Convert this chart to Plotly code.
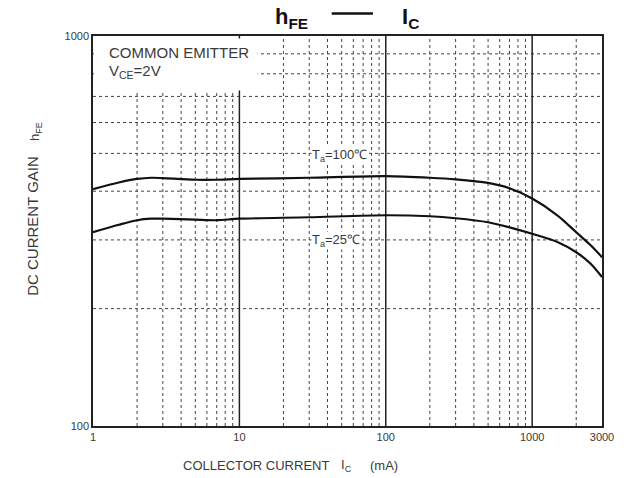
import plotly.graph_objects as go

# Data
ic_ma = [1, 1.5, 2, 2.5, 3, 5, 7, 10, 30, 100, 200, 300, 500, 700, 1000, 1500, 2000, 2500, 3000]
hfe_100c = [405, 421, 430, 433, 432, 428, 428, 430, 433, 437, 433, 429, 420, 407, 383, 346, 314, 291, 271]
hfe_25c = [314, 328, 337, 340, 340, 338, 337, 340, 343, 347, 345, 341, 333, 323, 311, 296, 279, 261, 241]

x_ticks = [1, 10, 100, 1000, 3000]
x_tick_text = ["1", "10", "100", "1000", "3000"]
y_ticks = [100, 1000]
y_tick_text = ["100", "1000"]
x_minor = [2, 3, 4, 5, 6, 7, 8, 9, 20, 30, 40, 50, 60, 70, 80, 90,
           200, 300, 400, 500, 600, 700, 800, 900, 2000]
x_major = [10, 100, 1000]
y_minor = [200, 300, 400, 500, 600, 700, 800, 900]

FONT = "Liberation Sans, Arial, sans-serif"
GREY = "#3a3a3a"

fig = go.Figure()
fig.add_trace(go.Scatter(x=ic_ma, y=hfe_100c, mode="lines",
                         line=dict(color="#111", width=2.2, shape="spline", smoothing=0.8),
                         showlegend=False))
fig.add_trace(go.Scatter(x=ic_ma, y=hfe_25c, mode="lines",
                         line=dict(color="#111", width=2.2, shape="spline", smoothing=0.8),
                         showlegend=False))

shapes = []
for xv in x_minor:
    shapes.append(dict(type="line", xref="x", yref="y", x0=xv, x1=xv, y0=100, y1=1000,
                       line=dict(color="#444", width=1, dash="dot"), layer="below"))
for yv in y_minor:
    shapes.append(dict(type="line", xref="x", yref="y", x0=1, x1=3000, y0=yv, y1=yv,
                       line=dict(color="#444", width=1, dash="dot"), layer="below"))
for xv in x_major:
    shapes.append(dict(type="line", xref="x", yref="y", x0=xv, x1=xv, y0=100, y1=1000,
                       line=dict(color="#222", width=1.5), layer="below"))
# white box behind the condition text
shapes.append(dict(type="rect", xref="x", yref="y", x0=1.015, x1=13.3, y0=725, y1=985,
                   fillcolor="white", line=dict(width=0), layer="below"))
# title dash
shapes.append(dict(type="line", xref="paper", yref="paper", x0=0.469, x1=0.55, y0=1.058, y1=1.058,
                   line=dict(color="#111", width=2.5)))
fig.update_layout(shapes=shapes)

ann = [
    dict(x=0.389, y=1.047, xref="paper", yref="paper", text="<b>h<sub>FE</sub></b>",
         showarrow=False, font=dict(size=22, color="#111", family=FONT), xanchor="center", yanchor="middle"),
    dict(x=0.623, y=1.047, xref="paper", yref="paper", text="<b>I<sub>C</sub></b>",
         showarrow=False, font=dict(size=22, color="#111", family=FONT), xanchor="center", yanchor="middle"),
    dict(x=0.027, y=0.958, xref="paper", yref="paper", text="COMMON EMITTER",
         showarrow=False, font=dict(size=15, color=GREY, family=FONT), xanchor="left", yanchor="middle"),
    dict(x=0.027, y=0.91, xref="paper", yref="paper", text="V<sub>CE</sub>=2V",
         showarrow=False, font=dict(size=15, color=GREY, family=FONT), xanchor="left", yanchor="middle"),
    dict(x=0.428, y=0.693, xref="paper", yref="paper", text="T<sub>a</sub>=100℃",
         showarrow=False, font=dict(size=13, color=GREY, family=FONT), xanchor="left", yanchor="middle",
         bgcolor="white", borderpad=0),
    dict(x=0.428, y=0.475, xref="paper", yref="paper", text="T<sub>a</sub>=25℃",
         showarrow=False, font=dict(size=13, color=GREY, family=FONT), xanchor="left", yanchor="middle",
         bgcolor="white", borderpad=0),
    dict(x=-0.118, y=0.513, xref="paper", yref="paper", text="DC CURRENT GAIN",
         textangle=-90, showarrow=False, font=dict(size=15, color=GREY, family=FONT),
         xanchor="center", yanchor="middle"),
    dict(x=-0.113, y=0.755, xref="paper", yref="paper", text="h<sub>FE</sub>",
         textangle=-90, showarrow=False, font=dict(size=13, color=GREY, family=FONT),
         xanchor="center", yanchor="middle"),
    dict(x=0.32, y=-0.1, xref="paper", yref="paper", text="COLLECTOR CURRENT",
         showarrow=False, font=dict(size=13, color=GREY, family=FONT), xanchor="center", yanchor="middle"),
    dict(x=0.498, y=-0.1, xref="paper", yref="paper", text="I<sub>C</sub>",
         showarrow=False, font=dict(size=13, color=GREY, family=FONT), xanchor="center", yanchor="middle"),
    dict(x=0.572, y=-0.1, xref="paper", yref="paper", text="(mA)",
         showarrow=False, font=dict(size=13, color=GREY, family=FONT), xanchor="center", yanchor="middle"),
]
fig.update_layout(annotations=ann)

fig.update_xaxes(type="log", range=[0, 3.4771], tickvals=x_ticks, ticktext=x_tick_text,
                 showgrid=False, zeroline=False, showline=True, mirror=True,
                 linecolor="#222", linewidth=1.5, ticks="",
                 tickfont=dict(size=11, color=GREY, family=FONT))
fig.update_yaxes(type="log", range=[2, 3], tickvals=y_ticks, ticktext=y_tick_text,
                 showgrid=False, zeroline=False, showline=True, mirror=True,
                 linecolor="#222", linewidth=1.5, ticks="",
                 tickfont=dict(size=11, color=GREY, family=FONT))

# page body has an 8px margin: figure is 8px smaller, left/top margins shifted
fig.update_layout(width=621, height=470, plot_bgcolor="white", paper_bgcolor="white",
                  margin=dict(l=85, r=27, t=28, b=52), showlegend=False)

fig.write_html("out.html")
